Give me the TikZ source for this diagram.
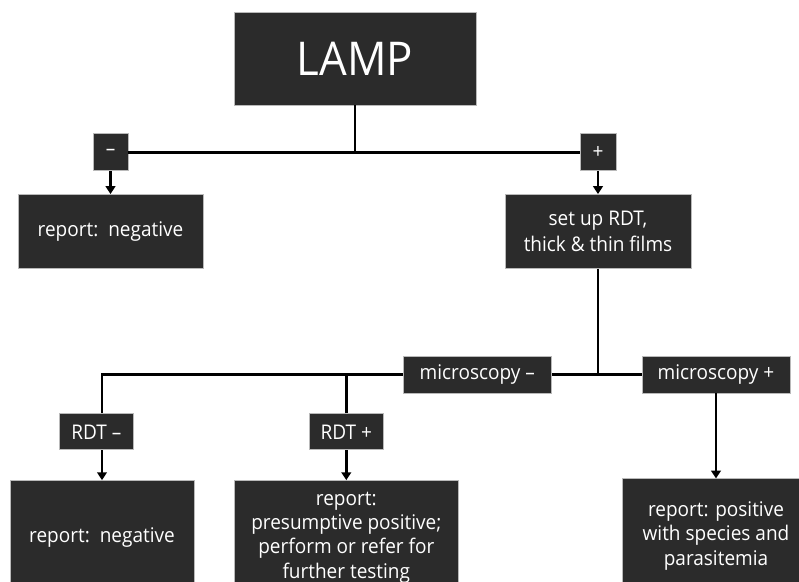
\documentclass[tikz,border=0pt]{standalone}
\usepackage{fontspec}
\setmainfont{Open Sans}[FakeStretch=0.94]
\usetikzlibrary{arrows.meta, positioning}

\definecolor{boxgray}{RGB}{43,43,43}

\begin{document}
\begin{tikzpicture}[>={Triangle[width=5.5pt,length=4.5pt]}, node distance=0.5cm]
      % Define the style for the boxes
      \tikzstyle{box}=[rectangle, fill=boxgray, draw=gray!55, line width=0.4pt,
        text=white, align=center, inner sep=0pt, font=\fontsize{11.5}{13.8}\selectfont]
      \tikzstyle{edge}=[draw, black, line width=1.5pt]

      \useasboundingbox (0,0) rectangle (15.98,-11.62);
      \clip (0,0) rectangle (15.98,-11.62);

      % Top box
      \node[box, minimum width=4.84cm, minimum height=1.86cm,
        font=\fontsize{26.5}{30}\selectfont] (lamp) at (7.1,-1.17) {LAMP};

      % First result
      \node[box, minimum width=0.7cm, minimum height=0.74cm] (neg) [below=0.56cm of lamp.south, xshift=-4.89cm] {–};
      \node[box, minimum width=0.72cm, minimum height=0.74cm] (pos) [below=0.56cm of lamp.south, xshift=4.86cm] {+};

      \node[box, minimum width=3.7cm, minimum height=1.48cm] (rep1) [below=0.46cm of neg] {report:\, negative};
      \node[box, minimum width=3.72cm, minimum height=1.48cm,
        font=\fontsize{11.5}{15.3}\selectfont] (setup) [below=0.46cm of pos] {set up RDT,\\thick \& thin films};

      % Microscopy
      \node[box, minimum width=2.96cm, minimum height=0.74cm] (micpos) [below=1.74cm of setup, xshift=2.36cm] {microscopy +};
      \node[box, minimum width=2.96cm, minimum height=0.74cm] (micneg) [left=1.8cm of micpos] {microscopy –};

      % RDT
      \node[box, minimum width=1.48cm, minimum height=0.72cm] (rdtneg) [below=0.4cm of micneg, xshift=-7.62cm] {RDT –};
      \node[box, minimum width=1.48cm, minimum height=0.72cm] (rdtpos) [below=0.4cm of micneg, xshift=-2.62cm] {RDT +};

      % Reports
      \node[box, minimum width=3.68cm, minimum height=2.28cm, anchor=north] (rep2) at ([yshift=-0.6cm]rdtneg.south -| 2.04,0) {report:\, negative};
      \node[box, minimum width=4.48cm, minimum height=2.28cm] (rep3) [below=0.6cm of rdtpos] {report:\\presumptive positive;\\perform or refer for\\further testing};
      \node[box, minimum width=3.76cm, minimum height=2.28cm] (rep4) [below=1.7cm of micpos] {report: positive\\with species and\\parasitemia};

      % Edges
      \draw[edge] (lamp.south) |- (neg.east);
      \draw[edge] (lamp.south) |- (pos.west);
      \draw[edge, ->] (neg) -- (rep1);
      \draw[edge, ->] (pos) -- (setup);

      \draw[edge] (setup.south) |- (micpos.west);
      \draw[edge] (setup.south) |- (micneg.east);
      \draw[edge] (micneg.west) -| (rdtneg.north -| rep2.north);
      \draw[edge] (rdtpos.north) -- (rdtpos.north |- micneg.west);

      \draw[edge, ->] (rdtneg.south -| rep2.north) -- (rep2.north);
      \draw[edge, ->] (rdtpos) -- (rep3);
      \draw[edge, ->] (micpos.south -| rep4.north) -- (rep4.north);

    \end{tikzpicture}
\end{document}
